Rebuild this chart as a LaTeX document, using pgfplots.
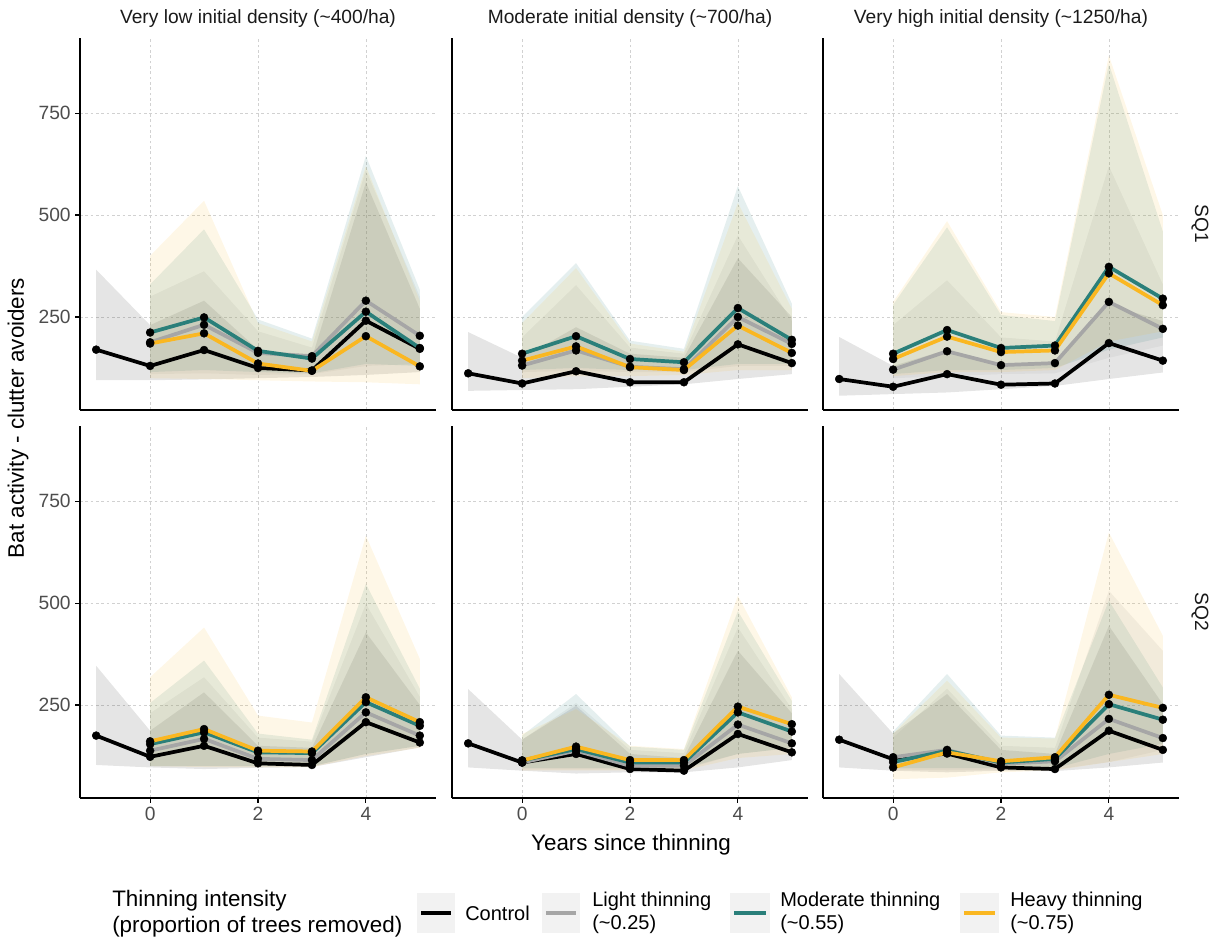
\documentclass[border=0pt]{standalone}
\usepackage{fontspec}
\setmainfont{Liberation Sans}
\usepackage{pgfplots}
\usepackage{pgfplotstable}
\usepgfplotslibrary{fillbetween}
\pgfplotsset{compat=1.18}

\definecolor{ctrlc}{RGB}{0,0,0}
\definecolor{lightc}{RGB}{166,166,166}
\definecolor{modc}{RGB}{42,127,122}
\definecolor{heavyc}{RGB}{250,183,33}
\definecolor{ticklab}{RGB}{77,77,77}
\definecolor{striptxt}{RGB}{26,26,26}
\definecolor{keybg}{RGB}{242,242,242}

% ---------- data: control (x, mean, lower, upper) ----------
\pgfplotstableread{
x c lo hi
-1 170 95 366
0 130 95 230
1 169 97 290
2 125 100 170
3 119 103 150
4 241 108 580
5 172 115 270
}\ctrlA
\pgfplotstableread{
x c lo hi
-1 112 69 213
0 87 71 150
1 117 73 225
2 90 79 160
3 90 85 150
4 183 98 394
5 137 110 250
}\ctrlB
\pgfplotstableread{
x c lo hi
-1 98 57 201
0 79 61 130
1 110 65 170
2 84 73 130
3 87 81 140
4 186 98 280
5 143 114 240
}\ctrlC
\pgfplotstableread{
x c lo hi
-1 175 103 346
0 123 97 187
1 150 93 281
2 107 96 150
3 103 98 145
4 208 122 428
5 158 146 250
}\ctrlD
\pgfplotstableread{
x c lo hi
-1 156 97 289
0 109 89 165
1 130 82 248
2 93 85 130
3 89 85 120
4 179 97 383
5 134 115 230
}\ctrlE
\pgfplotstableread{
x c lo hi
-1 165 97 326
0 117 89 180
1 131 85 277
2 97 89 140
3 93 88 130
4 187 97 444
5 140 109 252
}\ctrlF

% ---------- data: thinning treatments ----------
\pgfplotstableread{
x l ll lu m ml mu h hl hu
0 188 110 300 212 115 330 185 100 400
1 231 112 362 249 120 465 210 98 535
2 162 108 215 167 115 244 136 95 235
3 154 110 175 148 112 197 118 92 190
4 290 130 610 263 135 645 203 90 620
5 204 135 300 174 130 317 129 85 290
}\trtA
\pgfplotstableread{
x l ll lu m ml mu h hl hu
0 131 115 200 160 120 250 143 100 235
1 168 118 328 203 125 382 178 105 370
2 128 115 175 147 120 192 127 105 185
3 122 115 160 139 120 172 120 108 165
4 250 130 450 272 135 571 229 120 530
5 184 130 240 194 135 283 162 120 270
}\trtB
\pgfplotstableread{
x l ll lu m ml mu h hl hu
0 121 100 230 160 110 280 147 105 287
1 166 105 340 218 120 470 202 115 485
2 132 110 200 174 120 255 164 115 262
3 137 112 190 180 125 240 168 120 250
4 287 150 620 373 170 871 357 190 891
5 221 180 330 295 200 460 279 215 500
}\trtC
\pgfplotstableread{
x l ll lu m ml mu h hl hu
0 138 100 230 154 100 255 161 100 318
1 167 100 318 183 100 359 191 98 440
2 118 100 170 134 100 180 138 98 224
3 115 100 160 132 100 165 136 98 207
4 232 130 498 257 130 547 269 125 665
5 175 150 270 199 150 290 208 145 363
}\trtD
\pgfplotstableread{
x l ll lu m ml mu h hl hu
0 109 92 165 114 95 175 114 90 179
1 138 92 255 142 95 277 148 90 240
2 101 92 140 109 95 148 115 90 150
3 101 92 132 109 95 140 115 90 142
4 202 130 440 232 130 480 246 120 518
5 156 145 240 185 145 260 203 130 269
}\trtE
\pgfplotstableread{
x l ll lu m ml mu h hl hu
0 122 92 170 110 95 185 97 68 180
1 140 90 290 138 95 326 134 72 310
2 106 92 150 109 95 175 112 85 170
3 112 92 145 118 95 170 122 90 168
4 216 110 530 252 130 506 275 110 673
5 169 140 383 214 155 293 243 130 420
}\trtF

\pgfplotsset{
  panel/.style={
    width=267pt, height=279pt, scale only axis, anchor=south west,
    xmin=-1.3, xmax=5.3, ymin=22, ymax=934,
    axis x line*=bottom, axis y line*=left,
    axis line style={black, line width=0.8pt, -},
    xtick={0,2,4}, ytick={250,500,750},
    grid=major,
    major grid style={black!18, dash pattern=on 2pt off 2pt, line width=0.45pt},
    tick style={black, line width=0.8pt}, tick align=outside, major tick length=3.5pt,
    ticklabel style={font=\fontsize{14.4}{17}\selectfont, text=ticklab},
    /pgf/number format/assume math mode=true,
  },
  serline/.style={line width=2.8pt, line join=round, mark=*, mark size=3pt,
    mark options={draw=black, fill=black, line width=0.3pt, fill opacity=1}},
}

\newcommand{\drawpanel}[2]{%
  \addplot[color=ctrlc, serline] table[x=x,y=c]{#1};
  \addplot[color=lightc, serline] table[x=x,y=l]{#2};
  \addplot[color=modc, serline] table[x=x,y=m]{#2};
  \addplot[color=heavyc, serline] table[x=x,y=h]{#2};
  \addplot[draw=none, name path=CL] table[x=x,y=lo]{#1};
  \addplot[draw=none, name path=CU] table[x=x,y=hi]{#1};
  \addplot[fill=black, fill opacity=0.10, draw=none] fill between[of=CL and CU];
  \addplot[draw=none, name path=LL] table[x=x,y=ll]{#2};
  \addplot[draw=none, name path=LU] table[x=x,y=lu]{#2};
  \addplot[fill=lightc, fill opacity=0.15, draw=none] fill between[of=LL and LU];
  \addplot[draw=none, name path=ML] table[x=x,y=ml]{#2};
  \addplot[draw=none, name path=MU] table[x=x,y=mu]{#2};
  \addplot[fill=modc, fill opacity=0.12, draw=none] fill between[of=ML and MU];
  \addplot[draw=none, name path=HL] table[x=x,y=hl]{#2};
  \addplot[draw=none, name path=HU] table[x=x,y=hu]{#2};
  \addplot[fill=heavyc, fill opacity=0.11, draw=none] fill between[of=HL and HU];
}

\begin{document}
\begin{tikzpicture}

% top row
\begin{axis}[panel, at={(60pt,-307.5pt)}, xticklabels={}, xtick style={draw=none}]
\drawpanel{\ctrlA}{\trtA}
\end{axis}
\begin{axis}[panel, at={(339pt,-307.5pt)}, xticklabels={}, yticklabels={}, xtick style={draw=none}, ytick style={draw=none}]
\drawpanel{\ctrlB}{\trtB}
\end{axis}
\begin{axis}[panel, at={(617.25pt,-307.5pt)}, xticklabels={}, yticklabels={}, xtick style={draw=none}, ytick style={draw=none}]
\drawpanel{\ctrlC}{\trtC}
\end{axis}
% bottom row
\begin{axis}[panel, at={(60pt,-598.5pt)}]
\drawpanel{\ctrlD}{\trtD}
\end{axis}
\begin{axis}[panel, at={(339pt,-598.5pt)}, yticklabels={}, ytick style={draw=none}]
\drawpanel{\ctrlE}{\trtE}
\end{axis}
\begin{axis}[panel, at={(617.25pt,-598.5pt)}, yticklabels={}, ytick style={draw=none}]
\drawpanel{\ctrlF}{\trtF}
\end{axis}

% strip labels
\begin{scope}[every node/.style={font=\fontsize{14.4}{17}\selectfont, text=striptxt}]
\node at (193.5pt,-14.25pt) {Very low initial density (\char`\~400/ha)};
\node at (472.5pt,-14.25pt) {Moderate initial density (\char`\~700/ha)};
\node at (750.75pt,-14.25pt) {Very high initial density (\char`\~1250/ha)};
\node[rotate=-90] at (900pt,-168pt) {SQ1};
\node[rotate=-90] at (900pt,-459pt) {SQ2};
\end{scope}

% axis titles
\node[rotate=90, font=\fontsize{16.8}{20}\selectfont] at (13.5pt,-313.5pt) {Bat activity - clutter avoiders};
\node[font=\fontsize{16.8}{20}\selectfont] at (473.25pt,-633.75pt) {Years since thinning};

% legend
\node[anchor=west, align=left, font=\fontsize{16.8}{19.5}\selectfont, inner sep=0pt] at (84pt,-685.5pt) {Thinning intensity\\(proportion of trees removed)};
\fill[keybg] (312.75pt,-669.75pt) rectangle (341.25pt,-699.75pt);
\draw[ctrlc, line width=3pt] (315.75pt,-684.75pt) -- (338.25pt,-684.75pt);
\node[anchor=west, font=\fontsize{15}{17.5}\selectfont, inner sep=0pt] at (348.75pt,-684.75pt) {Control};
\fill[keybg] (406.5pt,-669.75pt) rectangle (435pt,-699.75pt);
\draw[lightc, line width=3pt] (409.5pt,-684.75pt) -- (432pt,-684.75pt);
\node[anchor=west, align=left, font=\fontsize{15}{17.5}\selectfont, inner sep=0pt] at (444pt,-684.75pt) {Light thinning\\(\char`\~0.25)};
\fill[keybg] (547.5pt,-669.75pt) rectangle (577.5pt,-699.75pt);
\draw[modc, line width=3pt] (550.5pt,-684.75pt) -- (574.5pt,-684.75pt);
\node[anchor=west, align=left, font=\fontsize{15}{17.5}\selectfont, inner sep=0pt] at (585pt,-684.75pt) {Moderate thinning\\(\char`\~0.55)};
\fill[keybg] (720pt,-669.75pt) rectangle (749.25pt,-699.75pt);
\draw[heavyc, line width=3pt] (723pt,-684.75pt) -- (746.25pt,-684.75pt);
\node[anchor=west, align=left, font=\fontsize{15}{17.5}\selectfont, inner sep=0pt] at (757.5pt,-684.75pt) {Heavy thinning\\(\char`\~0.75)};

\pgfresetboundingbox
\useasboundingbox (0,0) rectangle (913.5pt,-707.25pt);
\end{tikzpicture}
\end{document}
